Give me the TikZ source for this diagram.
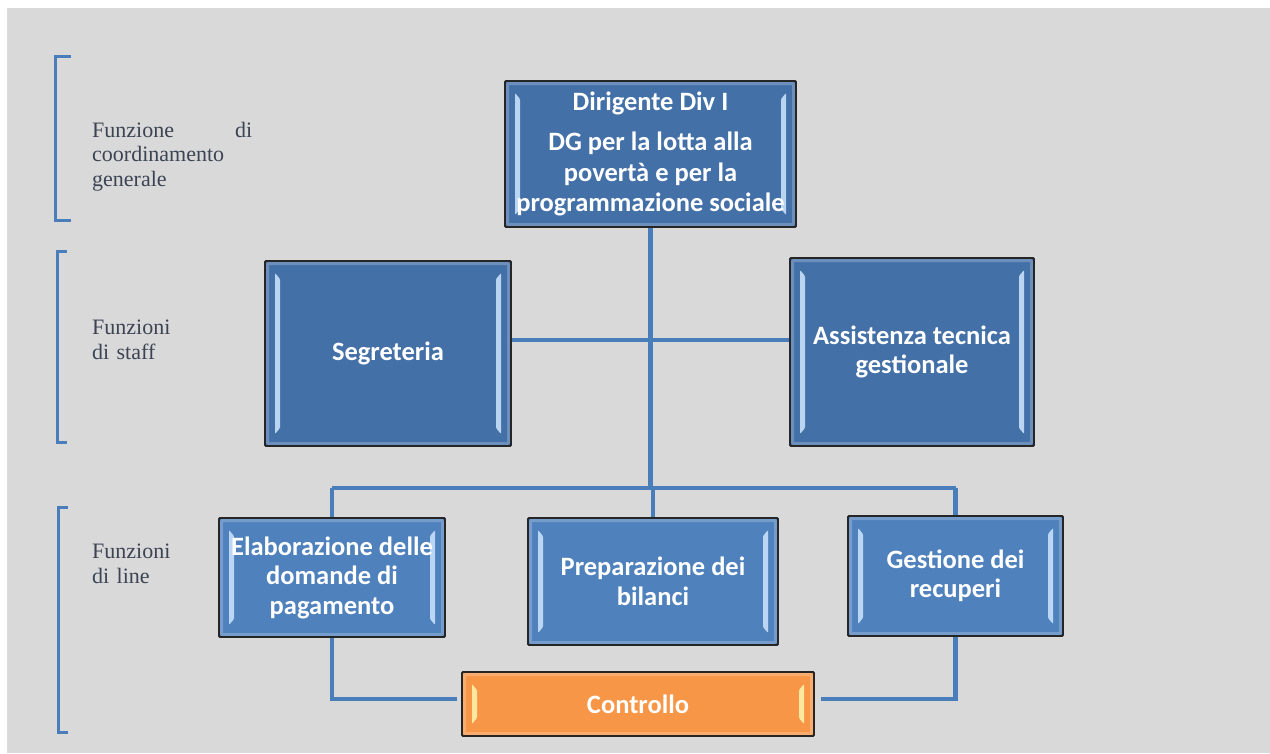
\documentclass[tikz,border=0pt]{standalone}
\usepackage{fontspec}
\setmainfont{Liberation Serif}
\newfontfamily\boxfont{Carlito}
\usetikzlibrary{calc}
\definecolor{bg}{HTML}{D9D9D9}
\definecolor{blueA}{HTML}{4470A8}
\definecolor{blueB}{HTML}{4F81BD}
\definecolor{orangeC}{HTML}{F79646}
\definecolor{linec}{HTML}{4A7EBB}
\definecolor{lbl}{HTML}{3C4454}
\definecolor{hlb}{HTML}{C6E0FA}
\definecolor{hlo}{HTML}{FFF0A8}
\tikzset{
  bevel/.style={path picture={
    \fill[#1,opacity=.9]
      ($(path picture bounding box.north west)+(10,12)$) -- ++(5,6) --
      ($(path picture bounding box.south west)+(15,-18)$) -- ++(-5,6) -- cycle;
    \fill[#1,opacity=.9]
      ($(path picture bounding box.north east)+(-10,12)$) -- ++(-5,6) --
      ($(path picture bounding box.south east)+(-15,-18)$) -- ++(5,6) -- cycle;
    \draw[white,opacity=.22,line width=3]
      ($(path picture bounding box.north west)+(2.5,2.5)$) rectangle
      ($(path picture bounding box.south east)+(-2.5,-2.5)$);
  }},
  orgbox/.style={draw=black!85,line width=1.8,rounded corners=1,
    text=white,inner sep=0,align=center,
    font=\boxfont\bfseries\fontsize{26.5}{29.5}\selectfont},
  topbox/.style={orgbox,fill=blueA,bevel=hlb},
  lowbox/.style={orgbox,fill=blueB,bevel=hlb},
  ctrlbox/.style={orgbox,fill=orangeC,bevel=hlo},
  conn/.style={draw=linec,line width=4.5},
  brack/.style={draw=linec,line width=3},
  sidelabel/.style={anchor=north west,inner sep=0,text=lbl,text width=160,
    align=left,font=\fontsize{22}{24.5}\selectfont}
}
\begin{document}
\begin{tikzpicture}[x=1pt,y=-1pt]
\useasboundingbox (0,0) rectangle (1270,753);
\fill[bg] (7,8) rectangle (1270,753);

% brackets
\draw[brack] (71,56) -- (55,56) -- (55,220) -- (71,220);
\draw[brack] (67,251) -- (57,251) -- (57,442) -- (67,442);
\draw[brack] (68,507) -- (58,507) -- (58,732) -- (68,732);

% side labels
\node[sidelabel] (l1) at (92,122) {Funzione\hfill di\\coordinamento\\generale};
\node[sidelabel] (l2) at (92,320) {Funzioni\\di staff};
\node[sidelabel] (l3) at (92,544) {Funzioni\\di line};

% coordinates for connector routing
\coordinate (stafy) at (652,340);
\coordinate (bus) at (652,488);
\coordinate (cy) at (638,699);

% boxes
\node[topbox,minimum width=291,minimum height=146,
  font=\boxfont\bfseries\fontsize{26.5}{30.5}\selectfont] (dir) at (650.5,154)
  {Dirigente Div I\\[10pt]DG per la lotta alla\\povertà e per la\\programmazione sociale};
\node[topbox,minimum width=246,minimum height=185] (seg) at (388,353.5) {Segreteria};
\node[topbox,minimum width=244,minimum height=188] (ass) at (912,352)
  {Assistenza tecnica\\gestionale};
\node[lowbox,minimum width=226,minimum height=119] (ela) at (332,577.5)
  {Elaborazione delle\\domande di\\pagamento};
\node[lowbox,minimum width=250,minimum height=127] (pre) at (653,581.5)
  {Preparazione dei\\bilanci};
\node[lowbox,minimum width=215,minimum height=120] (ges) at (955.5,576)
  {Gestione dei\\recuperi};
\node[ctrlbox,minimum width=352,minimum height=64] (con) at (638,704) {Controllo};

% tree connectors by node names
\draw[conn] (dir.south) -- (dir.south |- bus);
\draw[conn] (seg.east |- stafy) -- (ass.west |- stafy);
\draw[conn] (ela.north |- bus) -- (ges.north |- bus);
\draw[conn] (ela.north |- bus) -- (ela.north);
\draw[conn] (pre.north |- bus) -- (pre.north);
\draw[conn] (ges.north |- bus) -- (ges.north);
\draw[conn] (ela.south) -- (ela.south |- cy) -- ([xshift=-4]con.west |- cy);
\draw[conn] (ges.south) -- (ges.south |- cy) -- ([xshift=6]con.east |- cy);
\end{tikzpicture}
\end{document}
